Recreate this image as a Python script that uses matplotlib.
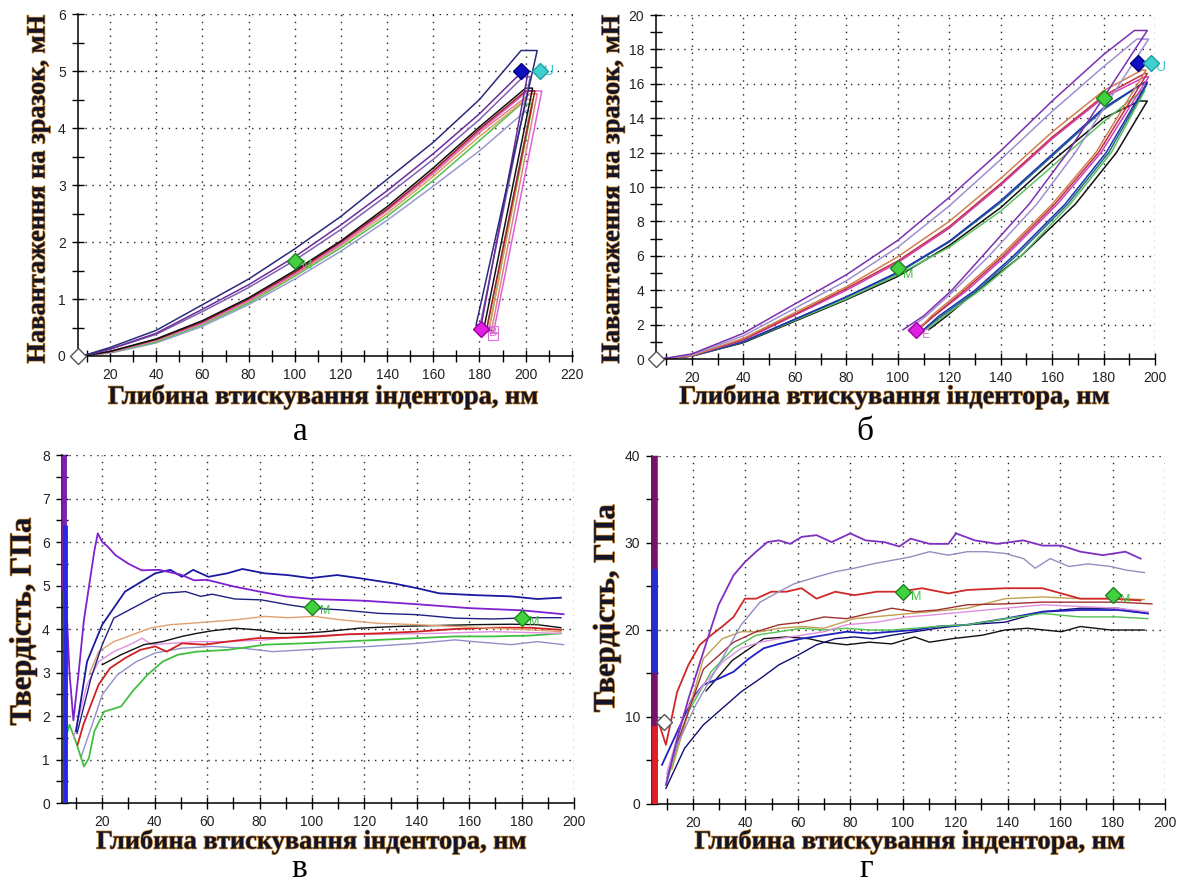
import matplotlib
matplotlib.use("Agg")
import matplotlib.pyplot as plt
import matplotlib.patheffects as pe
from matplotlib.ticker import MultipleLocator

plt.rcParams["font.family"] = ["Liberation Sans", "DejaVu Sans"]

# ---------------- а: навантаження-глибина (0-6 мН) ----------------
A_COLORS = ["#9a9ad0", "#50c050", "#d8a060", "#e08080", "#e060e0",
            "#a02020", "#111111", "#8060b0", "#6a2c9a", "#2b2b7a"]
A_LOAD_DEPTH = [8, 20, 40, 60, 80, 100, 120, 140, 160, 180]
A_LOAD = [
    [0, 0.05, 0.23, 0.52, 0.90, 1.35, 1.84, 2.38, 2.98, 3.60],
    [0, 0.06, 0.25, 0.55, 0.93, 1.40, 1.90, 2.45, 3.08, 3.78],
    [0, 0.07, 0.27, 0.57, 0.96, 1.42, 1.94, 2.50, 3.15, 3.85],
    [0, 0.07, 0.28, 0.58, 0.97, 1.44, 1.96, 2.55, 3.20, 3.92],
    [0, 0.07, 0.28, 0.58, 0.98, 1.45, 1.97, 2.56, 3.22, 3.95],
    [0, 0.08, 0.29, 0.60, 1.00, 1.47, 2.00, 2.58, 3.25, 3.98],
    [0, 0.08, 0.30, 0.62, 1.02, 1.50, 2.02, 2.62, 3.30, 4.02],
    [0, 0.12, 0.38, 0.78, 1.20, 1.68, 2.22, 2.82, 3.45, 4.15],
    [0, 0.12, 0.40, 0.82, 1.25, 1.74, 2.30, 2.90, 3.55, 4.25],
    [0, 0.15, 0.45, 0.90, 1.35, 1.88, 2.45, 3.10, 3.75, 4.50],
]
A_PEAK_DEPTH = [200, 198, 200, 202, 201, 200, 200, 199, 198, 198]
A_PEAK_LOAD = [4.30, 4.42, 4.50, 4.60, 4.65, 4.65, 4.70, 4.90, 4.97, 5.36]
A_HOLD_END = [202, 203, 203, 205, 207, 204, 203, 202, 201, 205]
A_END_DEPTH = [183, 184, 184, 185, 186, 183, 182, 180, 180.5, 178.5]
A_END_LOAD = [0.45, 0.45, 0.42, 0.40, 0.40, 0.45, 0.50, 0.48, 0.48, 0.54]

# ---------------- б: навантаження-глибина (0-20 мН) ----------------
B_COLORS = ["#111111", "#60c060", "#207080", "#2030b0", "#d040c0",
            "#c03040", "#d08050", "#a090d0", "#7a30b0"]
B_LOAD_DEPTH = [8, 20, 40, 60, 80, 100, 120, 140, 160, 180]
B_LOAD = [
    [0, 0.17, 0.95, 2.20, 3.45, 4.80, 6.60, 8.80, 11.5, 14.0],
    [0, 0.18, 1.00, 2.25, 3.50, 4.90, 6.50, 8.60, 11.2, 13.8],
    [0, 0.18, 1.00, 2.30, 3.60, 5.00, 6.80, 9.10, 11.8, 14.5],
    [0, 0.18, 1.02, 2.32, 3.62, 5.05, 6.85, 9.20, 11.9, 14.6],
    [0, 0.20, 1.10, 2.55, 4.00, 5.60, 7.60, 10.1, 12.8, 15.2],
    [0, 0.20, 1.15, 2.60, 4.10, 5.70, 7.70, 10.2, 12.9, 15.3],
    [0, 0.20, 1.20, 2.70, 4.20, 5.95, 8.00, 10.5, 13.2, 15.6],
    [0, 0.25, 1.35, 2.95, 4.55, 6.50, 8.90, 11.6, 14.4, 17.0],
    [0, 0.30, 1.50, 3.20, 4.90, 6.90, 9.40, 12.1, 15.0, 17.7],
]
B_PEAK_DEPTH = [194, 195, 195, 196, 196, 196, 195, 193, 192]
B_PEAK_LOAD = [15.0, 15.6, 16.0, 16.1, 16.4, 16.6, 16.8, 18.6, 19.1]
B_HOLD_END = [197, 196, 197, 197, 197.5, 197, 196.5, 197.5, 197]
B_UNLOAD_LOAD = [12, 9, 6, 4, 2.5, 1.7]
B_UNLOAD_DEPTH = [
    [185, 169, 148, 131, 119, 112],
    [183, 167, 148, 132, 118, 111],
    [182, 166, 146, 131, 117, 110],
    [181, 165, 145, 130, 116, 110],
    [179, 162, 142, 127, 114, 107],
    [178, 161, 141, 126, 114, 108],
    [177, 160, 140, 125, 113, 108],
    [169, 154, 135.5, 122, 111, 104],
    [166, 151, 133, 121, 110, 102],
]

# ---------------- в: твердість (0-8 ГПа) ----------------
C_COLORS = ["#9090c8", "#40c040", "#e090e0", "#d02020", "#111111",
            "#e0a070", "#202080", "#1a1aa0", "#8020d0"]
C_DEPTH = [
    [12, 15.7, 20, 25.8, 33, 40.2, 50.4, 62, 73.5, 85, 96.6, 108, 122.5, 140, 154.5, 161.7, 176, 186, 196],
    [6, 7.5, 9.9, 13, 14.9, 17, 20.7, 27.2, 31.6, 37.3, 43, 48.9, 56.1, 67.7, 82.2, 96.6, 111, 125.5, 140, 154.5, 169, 183.4, 195],
    [9.1, 14.2, 18.6, 24.4, 31.6, 35.2, 38.8, 46, 56.1, 67.7, 82.2, 96.6, 111, 125.5, 147.2, 169, 195],
    [10.6, 12.8, 15.7, 18.6, 23, 28.7, 34.5, 40.2, 44.6, 50.4, 59, 67.7, 79.3, 90.8, 102.4, 113.9, 125.5, 140, 154.5, 169, 183.4, 195],
    [20, 27.2, 35.9, 43, 50.4, 56.1, 62, 70.6, 79.3, 88, 96.6, 105.3, 118.3, 132.8, 147.2, 161.7, 176, 186, 195],
    [15, 18.6, 24.4, 31.6, 38.8, 46, 53.3, 62, 70.6, 82.2, 90.8, 101, 111, 125.5, 140, 154.5, 168.9, 183.4, 195],
    [10.4, 15.7, 20, 24.4, 31.6, 38.8, 43.1, 51.8, 57.6, 62, 70.6, 80.7, 90.8, 99.5, 111, 125.5, 140, 154.5, 168.9, 183.4, 195],
    [10, 14.2, 20, 28.7, 40.2, 46, 50.4, 54.7, 60.5, 67.7, 73.5, 82, 90.8, 99.5, 109.6, 118, 131, 140, 148.6, 161.7, 176, 186, 195],
    [5.7, 6.0, 7.5, 9.0, 11, 13, 15, 17, 18.3, 20, 22, 25, 30, 35, 41.7, 50, 55, 60, 70, 80, 90, 100, 120, 140, 160, 180, 196],
]
C_HARDNESS = [
    [1.07, 1.72, 2.49, 2.95, 3.25, 3.45, 3.56, 3.60, 3.56, 3.48, 3.52, 3.56, 3.60, 3.67, 3.75, 3.71, 3.64, 3.71, 3.64],
    [1.5, 1.8, 1.42, 0.84, 1.03, 1.65, 2.10, 2.22, 2.57, 2.95, 3.25, 3.41, 3.48, 3.52, 3.64, 3.67, 3.71, 3.75, 3.79, 3.83, 3.83, 3.85, 3.90],
    [1.5, 2.72, 3.25, 3.48, 3.67, 3.79, 3.64, 3.67, 3.71, 3.71, 3.75, 3.83, 3.87, 3.88, 3.90, 3.94, 3.90],
    [1.34, 1.8, 2.26, 2.72, 3.10, 3.33, 3.52, 3.60, 3.48, 3.67, 3.64, 3.71, 3.79, 3.80, 3.83, 3.88, 3.90, 3.94, 4.00, 4.03, 4.03, 3.98],
    [3.18, 3.41, 3.64, 3.71, 3.83, 3.90, 3.96, 4.02, 3.98, 3.90, 3.90, 3.94, 4.02, 4.06, 4.08, 4.10, 4.11, 4.10, 4.03],
    [2.95, 3.48, 3.71, 3.87, 4.03, 4.10, 4.13, 4.17, 4.21, 4.29, 4.26, 4.29, 4.21, 4.13, 4.10, 4.06, 4.02, 3.98, 3.94],
    [1.6, 2.87, 3.64, 4.25, 4.48, 4.71, 4.82, 4.86, 4.75, 4.80, 4.69, 4.67, 4.56, 4.48, 4.44, 4.36, 4.33, 4.25, 4.23, 4.26, 4.26],
    [1.65, 3.25, 4.10, 4.86, 5.28, 5.36, 5.20, 5.36, 5.20, 5.28, 5.38, 5.28, 5.24, 5.17, 5.24, 5.17, 5.05, 4.94, 4.82, 4.78, 4.75, 4.69, 4.72],
    [8.0, 5.0, 3.0, 1.9, 3.0, 4.2, 5.0, 5.8, 6.2, 6.0, 5.9, 5.7, 5.5, 5.35, 5.36, 5.25, 5.12, 5.13, 4.98, 4.86, 4.75, 4.69, 4.65, 4.57, 4.48, 4.43, 4.34],
]
C_SPIKE_X = [5.6, 5.8]
C_SPIKE_LO = [4.9, 0.0]
C_SPIKE_HI = [8.0, 6.4]
C_SPIKE_COLORS = ["#7a20b0", "#2828e0"]

# ---------------- г: твердість (0-40 ГПа) ----------------
D_COLORS = ["#111111", "#101070", "#2020c0", "#50c050", "#e090e0",
            "#c0a050", "#a03030", "#d02828", "#9090c0", "#8030c0"]
D_DEPTH = [
    [25, 35, 47, 55.6, 64.2, 70, 78.6, 87.2, 95.8, 104.5, 110.2, 118.8, 130.3, 139, 147.5, 160.5, 167.7, 179.2, 192.1],
    [9.7, 16.8, 24, 31.2, 38.4, 45.6, 52.8, 60, 67.1, 74.3, 81.5, 88.6, 95.8, 104.5, 113.1, 124.6, 139, 153.3, 167.7, 182, 193.5],
    [8.2, 14, 19.7, 24, 29.8, 35.5, 41.3, 47, 52.8, 61.4, 70, 78.6, 87.2, 95.8, 104.5, 113.1, 124.6, 139, 153.3, 167.7, 182, 193.5],
    [9.7, 18.3, 26.9, 35.5, 44.1, 52.8, 61.4, 70, 78.6, 87.2, 95.8, 104.5, 113.1, 124.6, 139, 153.3, 167.7, 182, 193.5],
    [10, 16.8, 24, 31.2, 38.4, 45.6, 52.8, 61.4, 70, 78.6, 90.1, 101.6, 110.2, 124.6, 139, 153.3, 167.7, 182, 193.5],
    [12, 24, 31.2, 38.4, 45.6, 52.8, 61.4, 70, 81.5, 95.8, 110.2, 124.6, 139, 153.3, 167.7, 182, 192.1],
    [14, 24, 35.5, 44.1, 52.8, 61.4, 70, 78.6, 87.2, 95.8, 104.5, 113.1, 124.6, 139, 153.3, 167.7, 182, 195],
    [6.8, 9.7, 14, 18.3, 22.6, 26.9, 31.2, 35.5, 39.8, 44.1, 49.9, 55.6, 61.4, 67.1, 74.3, 81.5, 90.1, 98.7, 107.3, 117.4, 124.6, 139, 153.3, 160.5, 167.7, 179.2, 190.7],
    [10, 14, 21.1, 29.8, 38.4, 45.6, 52.8, 58.5, 67.1, 74.3, 81.5, 88.6, 95.8, 103, 110.2, 117.4, 124.6, 131.8, 139, 146.1, 150.5, 156.2, 163.4, 170.6, 179.2, 184.9, 192.1],
    [9.7, 14, 18.3, 24, 29.8, 35.5, 39.8, 44.1, 48.4, 52.8, 57.1, 61.4, 67.1, 72.9, 80, 85.8, 93, 98.7, 103, 110.2, 117.4, 120.3, 127.5, 136, 146, 153.3, 160.5, 167.7, 176.3, 184.9, 190.7],
]
D_HARDNESS = [
    [13.0, 16.5, 19.0, 19.2, 19.0, 18.6, 18.3, 18.6, 18.4, 19.2, 18.6, 19.0, 19.4, 20.0, 20.2, 19.8, 20.4, 20.0, 20.0],
    [1.8, 6.4, 9.1, 11.0, 12.9, 14.4, 16.0, 17.1, 18.3, 19.0, 19.2, 19.0, 19.4, 19.8, 20.2, 20.6, 20.9, 22.1, 22.5, 22.5, 21.9],
    [4.5, 8.3, 12.1, 13.7, 14.4, 15.2, 16.7, 17.9, 18.4, 19.0, 19.4, 19.8, 19.6, 19.8, 20.0, 20.4, 20.6, 21.3, 22.1, 22.3, 22.3, 21.9],
    [2.2, 10.6, 15.2, 17.9, 19.4, 19.8, 20.2, 20.0, 20.2, 20.0, 20.0, 20.2, 20.4, 20.6, 21.3, 21.9, 21.5, 21.5, 21.3],
    [3.5, 10.6, 13.7, 16.3, 17.9, 18.6, 19.0, 19.4, 19.8, 20.6, 20.9, 21.5, 21.7, 22.1, 22.5, 22.9, 22.7, 22.5, 22.1],
    [4.0, 16.7, 19.0, 19.8, 19.8, 20.2, 20.4, 20.2, 21.3, 21.7, 22.1, 22.5, 23.6, 23.8, 23.6, 23.6, 23.5],
    [7.0, 15.5, 18.6, 19.8, 20.6, 20.9, 21.5, 21.3, 21.9, 22.5, 22.1, 22.3, 22.9, 23.0, 23.2, 23.2, 23.2, 23.0],
    [9.5, 6.8, 12.9, 16.0, 18.3, 19.4, 20.4, 21.5, 23.6, 23.6, 24.4, 24.4, 24.8, 23.6, 24.4, 24.0, 24.4, 24.4, 24.8, 24.2, 24.6, 24.8, 24.8, 24.2, 23.6, 23.6, 23.4],
    [3.0, 6.8, 11.4, 16.0, 20.6, 23.2, 24.4, 25.3, 26.1, 26.7, 27.1, 27.6, 28.0, 28.4, 29.0, 28.6, 29.0, 29.0, 28.8, 28.2, 27.1, 28.2, 27.3, 27.6, 27.3, 26.9, 26.6],
    [2.2, 7.5, 12.1, 17.5, 22.9, 26.3, 27.8, 29.0, 30.1, 30.3, 29.9, 30.7, 30.9, 30.1, 31.1, 30.3, 30.1, 29.6, 30.5, 29.9, 29.9, 31.1, 30.3, 29.9, 30.3, 29.7, 29.7, 29.0, 28.6, 29.0, 28.2],
]
D_SPIKE_X = [5.5, 5.7, 5.6]
D_SPIKE_LO = [0.0, 15.0, 0.0]
D_SPIKE_HI = [40.0, 27.0, 9.0]
D_SPIKE_COLORS = ["#7a1070", "#2030d0", "#e02020"]

YLAB_A = "Навантаження на зразок, мН"
YLAB_C = "Твердість, ГПа"
XLAB = "Глибина втискування індентора, нм"

fig = plt.figure(figsize=(11.78, 8.88), dpi=100)
axA = fig.add_axes([0.0658, 0.5991, 0.4206, 0.3851])
axB = fig.add_axes([0.5569, 0.5957, 0.4236, 0.3874])
axC = fig.add_axes([0.0523, 0.0957, 0.4350, 0.3919])
axD = fig.add_axes([0.5535, 0.0946, 0.4355, 0.3919])


def style(ax, xlim, xmaj, ylim, ymaj, ymin):
    ax.set_xlim(*xlim)
    ax.set_ylim(*ylim)
    ax.xaxis.set_major_locator(MultipleLocator(xmaj))
    ax.xaxis.set_minor_locator(MultipleLocator(xmaj / 2))
    ax.yaxis.set_major_locator(MultipleLocator(ymaj))
    ax.yaxis.set_minor_locator(MultipleLocator(ymin))
    ax.spines[["top", "right"]].set_visible(False)
    ax.spines[["left", "bottom"]].set_linewidth(1.1)
    ax.tick_params(which="both", direction="inout", width=1.0, labelsize=10,
                   labelcolor="#222222", pad=4)
    ax.tick_params(which="major", length=9)
    ax.tick_params(which="minor", length=8)
    ax.grid(which="major", color="#222222", linestyle=(0, (1, 4)), linewidth=1.0)
    ax.set_axisbelow(True)
    ax.set_xticks([t for t in ax.get_xticks() if t >= 20 and t <= xlim[1] + 0.1])


DIAMOND = dict(marker="D", markersize=8, linestyle="none", zorder=6, clip_on=False)

# ---- а
style(axA, (5.9, 220.5), 20, (0, 6), 1, 0.5)
for i, c in enumerate(A_COLORS):
    xs = A_LOAD_DEPTH + [A_PEAK_DEPTH[i], A_HOLD_END[i], A_END_DEPTH[i], A_END_DEPTH[i] + 2]
    ys = A_LOAD[i] + [A_PEAK_LOAD[i], A_PEAK_LOAD[i], A_END_LOAD[i], A_END_LOAD[i]]
    axA.plot(xs, ys, color=c, lw=1.1)
axA.plot([6], [0], mfc="white", mec="#555555", **DIAMOND)
axA.plot([100], [1.67], mfc="#40d040", mec="#208020", **DIAMOND)
axA.plot([198], [5.0], mfc="#1010c0", mec="#000080", **DIAMOND)
axA.plot([206], [5.0], mfc="#40d0d0", mec="#20a0a0", **DIAMOND)
axA.plot([180.5], [0.48], mfc="#e020e0", mec="#a000a0", **DIAMOND)
axA.text(208, 5.0, "U", color="#40c8d0", fontsize=10, va="center")
axA.text(103, 1.58, "M", color="#40c040", fontsize=9, va="center")
axA.text(184, 0.4, "B", color="#e070e0", fontsize=9, va="center",
         bbox=dict(fc="none", ec="#e070e0", pad=0.5, lw=0.8))

# ---- б
style(axB, (6, 200), 20, (0, 20), 2, 1)
for i, c in enumerate(B_COLORS):
    xs = B_LOAD_DEPTH + [B_PEAK_DEPTH[i], B_HOLD_END[i]] + B_UNLOAD_DEPTH[i]
    ys = B_LOAD[i] + [B_PEAK_LOAD[i], B_PEAK_LOAD[i]] + B_UNLOAD_LOAD
    axB.plot(xs, ys, color=c, lw=1.1)
axB.plot([6], [0], mfc="white", mec="#555555", **DIAMOND)
axB.plot([100], [5.3], mfc="#40d040", mec="#208020", **DIAMOND)
axB.plot([180], [15.2], mfc="#40d040", mec="#208020", **DIAMOND)
axB.plot([193.5], [17.2], mfc="#1010c0", mec="#000080", **DIAMOND)
axB.plot([198.5], [17.2], mfc="#40d0d0", mec="#20a0a0", **DIAMOND)
axB.plot([107], [1.7], mfc="#e020e0", mec="#a000a0", **DIAMOND)
axB.text(200.5, 17.0, "U", color="#40c8d0", fontsize=10, va="center", clip_on=False)
axB.text(102, 4.9, "M", color="#40c040", fontsize=9, va="center")
axB.text(109.5, 1.4, "E", color="#e070e0", fontsize=9, va="center")

# ---- в
style(axC, (4.5, 200), 20, (0, 8), 1, 0.5)
for x, lo, hi, c in zip(C_SPIKE_X, C_SPIKE_LO, C_SPIKE_HI, C_SPIKE_COLORS):
    axC.vlines(x, lo, hi, color=c, lw=3.5, zorder=4)
for i, c in enumerate(C_COLORS):
    axC.plot(C_DEPTH[i], C_HARDNESS[i], color=c, lw=1.3 if i in (1, 3, 7, 8) else 1.0)
axC.plot([100], [4.5], mfc="#40d040", mec="#208020", **DIAMOND)
axC.plot([180], [4.25], mfc="#40d040", mec="#208020", **DIAMOND)
axC.text(103, 4.42, "M", color="#40c040", fontsize=9, va="center")
axC.text(183, 4.17, "M", color="#40c040", fontsize=9, va="center")

# ---- г
style(axD, (4.4, 200), 20, (0, 40), 10, 5)
for x, lo, hi, c in zip(D_SPIKE_X, D_SPIKE_LO, D_SPIKE_HI, D_SPIKE_COLORS):
    axD.vlines(x, lo, hi, color=c, lw=4, zorder=4)
for i, c in enumerate(D_COLORS):
    axD.plot(D_DEPTH[i], D_HARDNESS[i], color=c, lw=1.3 if i in (2, 7, 9) else 1.0)
axD.plot([8.9], [9.45], mfc="white", mec="#555555", **DIAMOND)
axD.plot([100], [24.4], mfc="#40d040", mec="#208020", **DIAMOND)
axD.plot([180], [24.0], mfc="#40d040", mec="#208020", **DIAMOND)
axD.text(103, 23.8, "M", color="#40c040", fontsize=9, va="center")
axD.text(183, 23.4, "M", color="#40c040", fontsize=9, va="center")

# ---- підписи
glow = [pe.withStroke(linewidth=1.0, foreground="#c88a30")]
serif = ["Liberation Serif", "DejaVu Serif"]
lab = dict(family=serif, fontweight="bold", color="#141428", ha="center", va="center",
           path_effects=glow)
fig.text(0.0323, 0.787, YLAB_A, rotation=90, fontsize=19, **lab)
fig.text(0.5200, 0.787, YLAB_A, rotation=90, fontsize=19, **lab)
fig.text(0.0195, 0.300, YLAB_C, rotation=90, fontsize=22, **lab)
fig.text(0.5150, 0.315, YLAB_C, rotation=90, fontsize=22, **lab)
for x, y in [(0.274, 0.553), (0.759, 0.553), (0.264, 0.052), (0.772, 0.052)]:
    fig.text(x, y, XLAB, fontsize=19, **lab)
for x, y, t, v in [(0.255, 0.514, "а", "center"), (0.734, 0.514, "б", "center"),
                   (0.254, 0.004, "в", "bottom"), (0.735, 0.004, "г", "bottom")]:
    fig.text(x, y, t, family=serif, fontsize=24, color="black", ha="center", va=v)

fig.savefig("out.png", dpi=100)
